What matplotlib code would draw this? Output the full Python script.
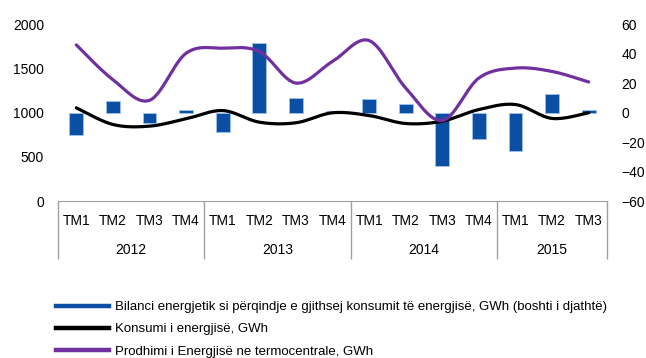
import numpy as np
import matplotlib.pyplot as plt
from matplotlib.lines import Line2D

plt.rcParams['font.family'] = ['Liberation Sans', 'DejaVu Sans']

# tremujoret dhe vitet
quarters = ['TM1', 'TM2', 'TM3', 'TM4',
            'TM1', 'TM2', 'TM3', 'TM4',
            'TM1', 'TM2', 'TM3', 'TM4',
            'TM1', 'TM2', 'TM3']
years = ['2012', '2013', '2014', '2015']
year_len = [4, 4, 4, 3]

# bilanci energjetik ne % (boshti i djathte)
bilanci = [-15, 8, -7, 2, -13, 47, 10, 1, 9, 6, -36.5, -18, -26, 12.7, 2]
# konsumi i energjise, GWh
konsumi = [1053, 865, 846, 929, 1022, 891, 884, 997,
           966, 876, 902, 1034, 1090, 933, 997]
# prodhimi ne termocentrale, GWh
prodhimi = [1764, 1371, 1138, 1670, 1727, 1689, 1333, 1577,
            1813, 1277, 910, 1390, 1502, 1464, 1345]

BLUE = '#0a4fa3'
PURPLE = '#7030a0'
GRAY = '#a0a0a0'


def smooth(y, n=30):
    # kurbe e lemuar si ne Excel (Bezier kubike me tangjente Catmull-Rom)
    y = np.asarray(y, float)
    x = np.arange(len(y), dtype=float)
    px = np.concatenate([[x[0]], x, [x[-1]]])
    py = np.concatenate([[y[0]], y, [y[-1]]])
    xs, ys = [], []
    t = np.linspace(0, 1, n)
    for i in range(1, len(px) - 2):
        p0 = np.array([px[i], py[i]])
        p3 = np.array([px[i + 1], py[i + 1]])
        c1 = p0 + (p3 - np.array([px[i - 1], py[i - 1]])) / 6
        c2 = p3 - (np.array([px[i + 2], py[i + 2]]) - p0) / 6
        b = ((1 - t) ** 3)[:, None] * p0 + (3 * (1 - t) ** 2 * t)[:, None] * c1 \
            + (3 * (1 - t) * t ** 2)[:, None] * c2 + (t ** 3)[:, None] * p3
        xs.extend(b[:, 0])
        ys.extend(b[:, 1])
    return np.array(xs), np.array(ys)


fig = plt.figure(figsize=(6.46, 3.58), dpi=100)
ax = fig.add_axes([0.0898, 0.4385, 0.8498, 0.4944])
ax2 = ax.twinx()

x = np.arange(len(quarters))
ax2.bar(x, bilanci, width=0.38, color=BLUE, edgecolor='#9fc3ea', linewidth=0.6)

sx, sy = smooth(konsumi)
ax.plot(sx, sy, color='black', lw=2.3, solid_capstyle='round')
sx, sy = smooth(prodhimi)
ax.plot(sx, sy, color=PURPLE, lw=2.3, solid_capstyle='round')

ax.set_zorder(ax2.get_zorder() + 1)
ax.patch.set_visible(False)

ax.set_xlim(-0.5, len(quarters) - 0.5)
ax.set_ylim(0, 2000)
ax.set_yticks([0, 500, 1000, 1500, 2000])
ax2.set_ylim(-60, 60)
ax2.set_yticks([-60, -40, -20, 0, 20, 40, 60])

for a in (ax, ax2):
    for s in ('top', 'left', 'right'):
        a.spines[s].set_visible(False)
    a.spines['bottom'].set_color(GRAY)
    a.tick_params(axis='y', length=0, labelsize=10, colors='black')
ax.tick_params(axis='y', pad=10)
ax2.tick_params(axis='y', pad=10.5)
ax2.spines['bottom'].set_visible(False)

# kufijte e tremujoreve dhe te viteve ne boshtin x
ax.set_xticks(np.arange(-0.5, len(quarters), 1.0))
ax.set_xticklabels([])
ax.tick_params(axis='x', direction='out', length=21, width=1, color=GRAY)
bounds = np.cumsum([0] + year_len) - 0.5
ax.set_xticks(bounds, minor=True)
ax.tick_params(axis='x', which='minor', direction='out', length=42, width=1, color=GRAY)
ax2.set_xticks([])

for i, q in enumerate(quarters):
    ax.annotate(q, (i, 0), xycoords=('data', 'axes fraction'),
                xytext=(0, -14.5), textcoords='offset points',
                ha='center', va='center', fontsize=10)
for k, yr in enumerate(years):
    mid = (bounds[k] + bounds[k + 1]) / 2
    ax.annotate(yr, (mid, 0), xycoords=('data', 'axes fraction'),
                xytext=(0, -35.5), textcoords='offset points',
                ha='center', va='center', fontsize=10)

handles = [Line2D([], [], color=BLUE, lw=3.2),
           Line2D([], [], color='black', lw=3.2),
           Line2D([], [], color=PURPLE, lw=3.2)]
labels = ['Bilanci energjetik si përqindje e gjithsej konsumit të energjisë, GWh (boshti i djathtë)',
          'Konsumi i energjisë, GWh',
          'Prodhimi i Energjisë ne termocentrale, GWh']
fig.legend(handles, labels, loc='upper left', bbox_to_anchor=(0.0867, 0.159),
           frameon=False, handlelength=4.0, handletextpad=0.45, labelspacing=0.75,
           borderpad=0, borderaxespad=0, prop={'size': 9.5})

fig.savefig('out.png', dpi=100)
